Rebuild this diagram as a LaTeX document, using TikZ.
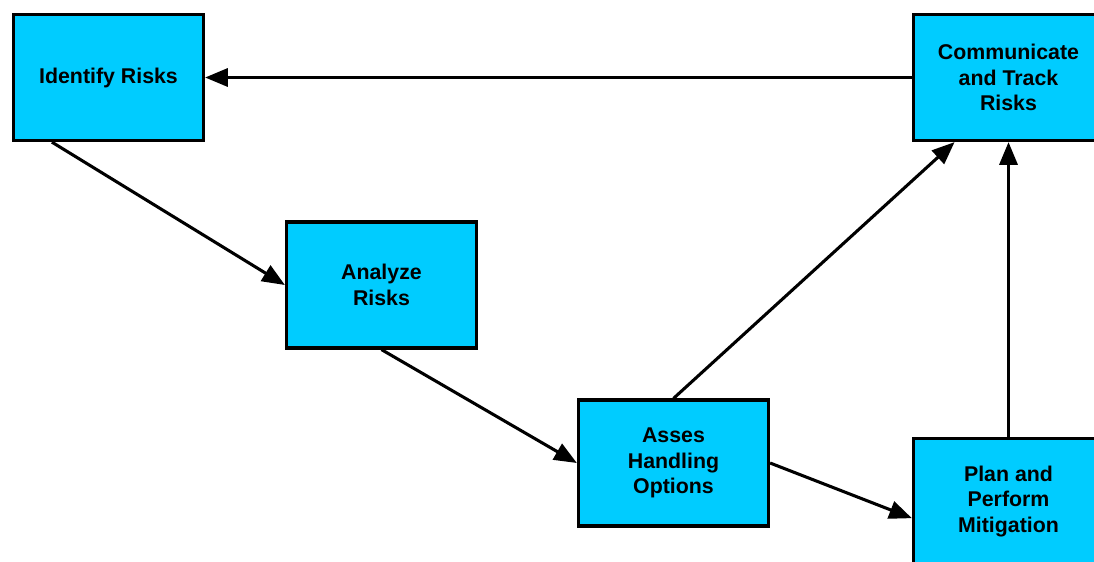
\documentclass[tikz,border=0pt]{standalone}
\usepackage{fontspec}
\setmainfont{Liberation Sans}
\usetikzlibrary{arrows.meta,calc}
\definecolor{boxblue}{HTML}{00CCFF}
\begin{document}
\begin{tikzpicture}[x=0.75pt,y=-0.75pt,
  procbox/.style={draw=black,fill=boxblue,line width=2.4pt,
    minimum width=142.5pt,minimum height=94.5pt,inner sep=0pt,
    align=center,font=\fontsize{16pt}{19.3pt}\selectfont\bfseries},
  conn/.style={draw=black,line width=2.3pt,
    -{Triangle[length=17pt,width=13.5pt]}}]
\useasboundingbox (0,0) rectangle (1094,561);
\node[procbox] (ident) at (108.5,77.5) {Identify Risks};
\node[procbox] (anal) at (381.5,285) {Analyze\\Risks};
\node[procbox] (asses) at (673.5,463) {Asses\\Handling\\Options};
\node[procbox] (comm) at (1008.5,77.5) {Communicate\\and Track\\Risks};
\node[procbox] (plan) at (1008.5,501.5) {Plan and\\Perform\\Mitigation};
\draw[conn] (comm.west) -- (ident.east);
\draw[conn] ([xshift=30pt]ident.south west) -- (anal.west);
\draw[conn] (anal.south) -- (asses.west);
\draw[conn] (asses.north) -- ([xshift=32pt]comm.south west);
\draw[conn] (asses.east) -- ([yshift=-12.5pt]plan.west);
\draw[conn] (plan.north) -- (comm.south);
\end{tikzpicture}
\end{document}
